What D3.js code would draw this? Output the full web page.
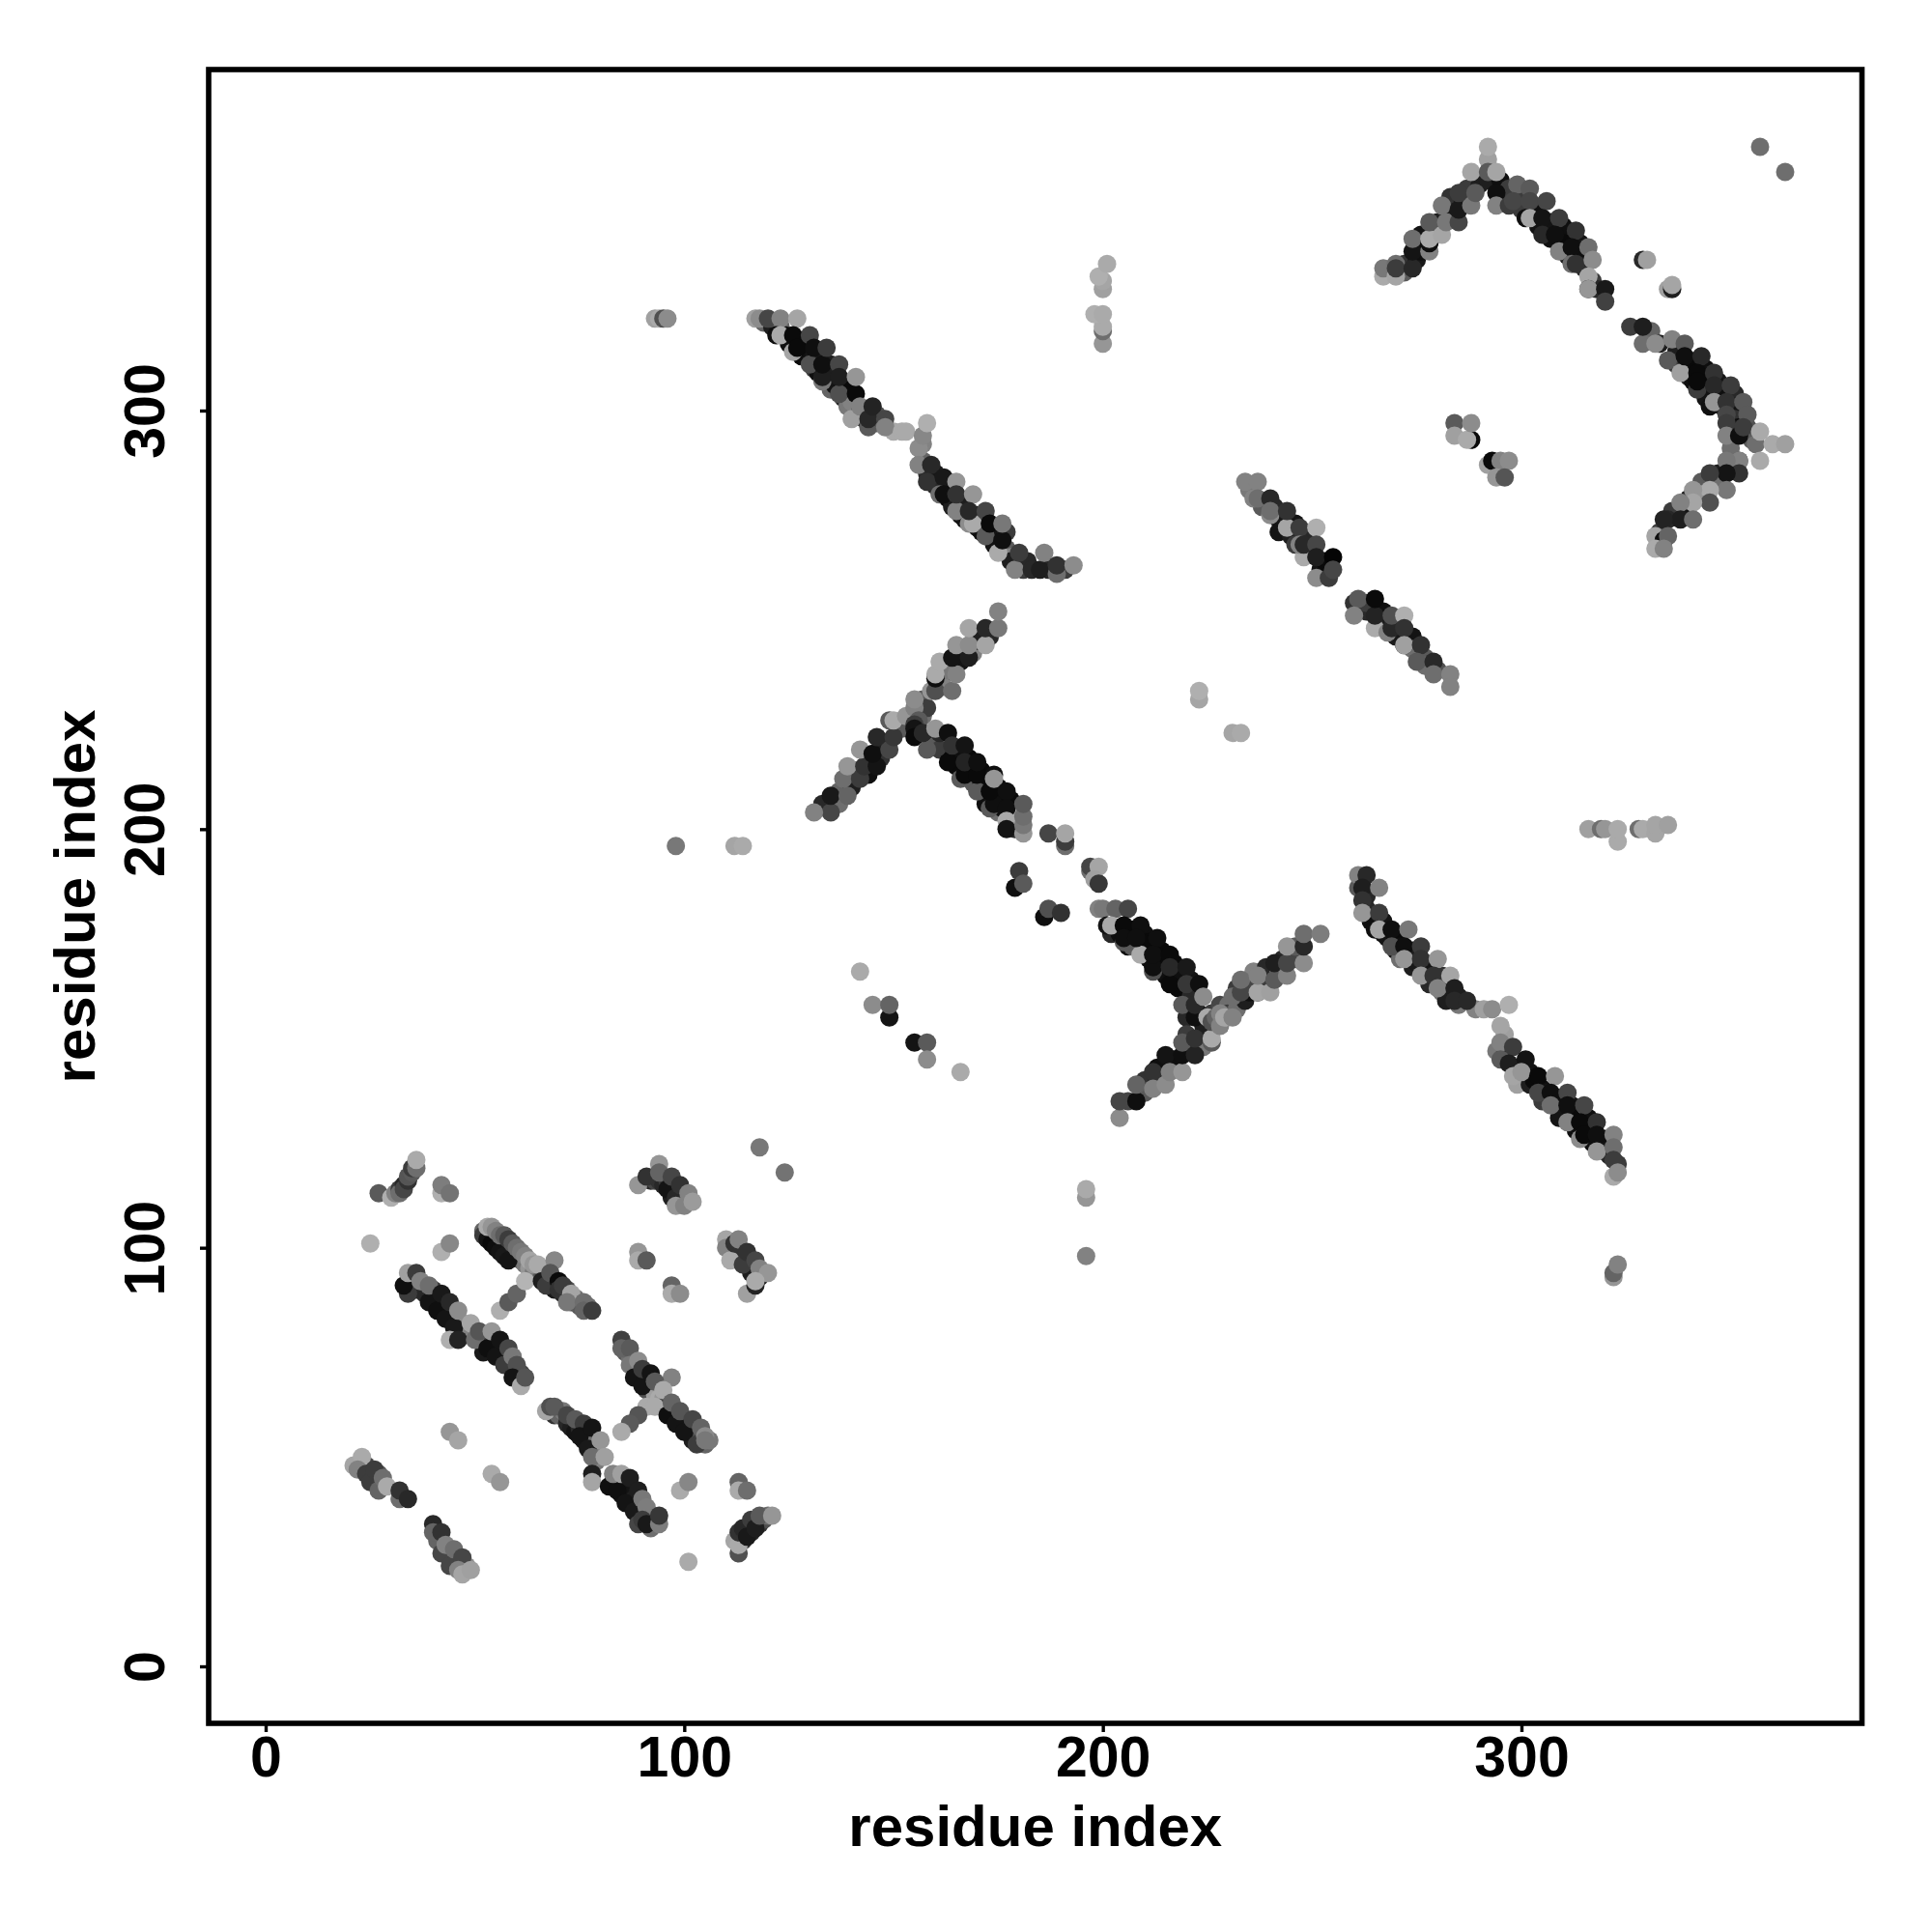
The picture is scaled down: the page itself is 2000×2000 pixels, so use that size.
<!DOCTYPE html>
<html><head><meta charset="utf-8"><style>html,body{margin:0;background:#fff}</style>
<script src="https://cdn.jsdelivr.net/npm/d3@7"></script></head><body><svg id="c" width="2000" height="2000"></svg>
<script>
// each row: [residue x, residue y, grey shade 0-255]
const underB=[[53,103,60],[54,103,30],[55,102,25],[56,101,20],[57,100,30],[58,100,40],[59,99,60],[60,98,70],[61,97,90],[62,96,120],[63,95,150],[64,94,120],[66,94,90],[67,93,40],[68,92,30],[69,90,25],[71,89,40],[72,90,80],[73,87,60],[74,88,110],[75,86,90],[77,86,110]];
const underC=[[35,92,60],[36,90,30],[37,90,60],[38,89,40],[40,88,20],[40,90,60],[41,88,40],[43,86,25],[44,85,30],[45,83,30],[46,82,110],[47,82,140],[48,80,150],[49,80,130],[51,78,120],[52,78,60],[52,75,25],[53,79,60],[54,76,25],[55,77,30],[56,75,30],[57,75,50],[58,73,40],[59,71,60],[60,70,50],[61,70,70]];
const underD=[[69,60,50],[70,60,100],[71,61,120],[72,58,40],[73,57,30],[74,56,20],[75,57,40],[76,54,25],[77,55,30],[78,53,110],[79,52,150],[79,49,120],[80,50,130],[83,44,25],[84,45,30],[85,44,20],[85,41,20],[86,43,25],[87,41,20],[88,40,30],[89,39,60],[90,38,70],[91,36,60],[92,36,90],[93,35,110],[92,33,110]];
const underE=[[86,75,90],[87,74,110],[88,72,50],[89,70,30],[90,69,40],[91,68,60],[91,66,80],[92,67,90],[93,65,160],[94,64,170],[95,64,150],[96,63,60],[97,61,40],[98,61,60],[99,59,30],[100,59,60],[101,57,40],[102,57,70],[102,54,30],[103,55,50],[104,55,80],[105,53,100],[106,54,120]];
const underF=[[92,116,40],[93,116,70],[94,116,50],[95,115,40],[96,116,60],[97,112,30],[98,113,50],[99,113,70],[100,112,110],[101,111,130]];
const underG=[[111,100,110],[112,99,60],[113,98,40],[114,98,50],[115,96,30],[116,96,50],[117,95,50],[116,94,30],[118,93,40]];
const underH=[[23,48,100],[24,48,70],[25,46,40],[26,45,60],[27,46,90],[41,30,100],[43,28,100],[44,26,60],[45,25,60],[46,26,100],[48,24,140]];
const underI=[[114,30,50],[115,33,40],[116,32,40],[117,35,60],[118,34,50],[119,35,80],[120,36,110]];
const underJ=[[119,321,100],[121,320,30],[123,320,100],[124,318,15],[125,316,15],[127,317,20],[128,315,10],[128,313,10],[129,313,15],[131,313,20],[131,310,60],[132,312,30],[132,309,15],[134,309,60],[135,307,30],[135,311,30],[135,305,100],[136,306,20],[138,306,10],[138,303,40],[139,305,10],[139,301,120],[140,302,130],[142,300,60],[143,298,40],[143,300,90],[146,299,80],[146,297,90],[150,295,170],
[157,288,100],[158,285,40],[160,285,25],[160,282,40],[163,282,30],[163,279,15],[164,280,20],[164,277,30],[166,278,15],[166,275,15],[167,277,30],[167,274,20],[170,275,30],[170,272,25],[171,274,30],[171,271,15],[173,271,10],[174,271,20],[174,268,20],[176,268,20],[177,267,90],[177,271,60],[178,265,130],[178,264,30],[181,262,60],[182,264,40],[187,262,40],[191,262,60]];
const underK=[[133,206,40],[137,209,100],[137,206,110],[140,210,30],[141,214,60],[144,213,15],[144,217,15],[147,221,30],[147,217,50],[151,224,110],[152,224,90],[157,227,110],[157,231,90],[158,229,60],[161,234,60],[162,237,15],[162,234,130],[163,238,120],[166,240,20],[166,243,40],[169,242,130],[170,245,30],[173,246,40]];
const underL=[[159,221,15],[160,220,90],[161,219,60],[161,223,40],[164,217,10],[165,218,15],[165,215,10],[168,217,10],[168,214,10],[169,211,90],[171,214,10],[171,211,10],[172,210,10],[172,206,15],[175,210,10],[175,207,10],[175,204,110],[176,205,15],[178,204,10],[178,207,10],[179,203,170],[179,200,40]];
const underM=[[202,175,40],[204,175,15],[206,175,10],[206,172,15],[207,176,10],[207,172,90],[210,175,15],[210,171,10],[211,173,10],[211,169,15],[213,168,10],[214,171,10],[214,167,10],[215,165,15],[217,168,10],[217,164,10],[218,165,15],[218,162,10],[221,164,20],[221,160,40],[221,157,20],[223,156,10],[220,155,40]];
const underN=[[206,135,70],[210,137,90],[210,140,50],[213,140,30],[213,143,15],[217,143,15],[217,145,15],[220,147,30],[220,151,60],[224,151,90],[224,148,120],
[224,153,30],[226,156,60],[228,158,70],[230,158,110],[230,156,60],[232,157,110],[232,162,60],[234,159,30],[235,161,15],[235,164,70],[236,166,130],[238,162,20],[239,163,60],[239,167,40],[242,166,120],[243,169,40],[246,169,70],[246,172,90]];
const underO=[[262,188,20],[261,186,90],[263,184,40],[263,181,40],[264,178,15],[267,178,20],[267,175,15],[268,174,20],[270,174,10],[270,171,20],[271,172,15],[271,169,110],[273,170,25],[274,171,30],[274,167,30],[275,168,25],[277,168,40],[277,165,15],[278,166,20],[278,163,40],[281,165,50],[281,161,110],[282,162,40],[282,159,30],[285,160,30],[285,158,120],[289,157,130],[296,151,160],[294,147,120],[296,146,40],[299,143,15],[299,139,160],[302,142,20],[302,139,30],[303,140,10],[305,138,15],[305,135,60],[306,137,20],[308,136,15],[309,134,15],[309,131,20],[312,134,20],[312,131,10],[313,128,15],[316,131,15],[316,128,10],[317,125,15],[319,124,20],[320,126,15],[320,123,20],[321,122,40],[323,120,60]];
const underP=[[268,333,60],[272,335,50],[272,333,90],[275,336,25],[276,338,15],[276,342,20],[279,343,40],[280,345,30],[283,347,25],[283,351,50],[286,350,30],[287,353,60],[290,354,30],[292,355,30],[295,355,15],[296,351,40],[297,353,60],[300,351,60],[300,348,60],[303,348,15],[304,346,15],[304,344,20],[306,343,15],[307,345,20],[307,341,15],[310,344,15],[310,340,15],[311,340,10],[311,337,30],[314,340,20],[314,337,15],[315,334,40],[317,331,60],[318,329,40]];
const underQ=[[331,319,100],[333,316,30],[337,314,30],[337,311,60],[340,312,10],[340,308,40],[341,310,10],[341,307,15],[344,310,15],[344,306,10],[344,303,20],[347,307,20],[347,304,15],[348,301,30],[351,304,40],[351,301,20],[351,298,50],[352,296,15],[354,296,80],[355,293,90],[350,291,110],[350,287,40],[347,285,30],[347,283,110],[343,283,90],[343,280,150],[340,279,30],[339,276,20],[336,276,60],[335,274,40],[333,271,60]];
const underS=[[235,281,120],[238,277,90],[241,277,40],[242,274,25],[242,271,20],[245,270,30],[246,268,60],[246,273,20],[249,267,15],[249,270,40],[250,266,150],[252,262,20],[253,264,10],[262,253,30],[263,252,40],[263,254,60],[266,249,20],[267,252,15],[267,249,30],[270,250,20],[270,246,25],[274,246,20],[274,243,110],[277,241,90],[277,239,110],[280,238,80]];
const blockA=[[27,113,90],[30,112,175],[31,113,130],[32,114,60],[32,113,110],[33,115,40],[33,114,70],[34,116,50],[34,117,85],[35,118,90],[35,119,60],[36,119,110],[36,121,170],
[42,113,175],[42,115,125],[44,113,115],[25,101,175],[42,99,175],[44,101,135]];
const blockB=[[52,104,100],[52,103,60],[53,102,20],[54,101,10],[55,100,15],[56,99,20],[57,98,25],[58,97,20],[53,105,170],[54,105,150],[55,104,130],[56,103,110],[57,103,90],[58,102,60],[59,101,90],[60,100,110],[61,99,120],[62,98,130],[63,97,165],[64,96,150],[65,96,170],[69,97,135],
[56,85,175],[58,87,90],[60,89,100],[62,92,180],[66,92,30],[67,91,60],[68,94,85],[70,92,10],[70,90,50],[71,91,60],[73,89,165],[72,87,120],[76,87,110],[76,85,100],[78,85,60]];
const blockC=[[34,89,60],[33,91,15],[34,94,160],[36,94,60],[37,92,130],[39,87,20],[41,85,15],[43,83,20],[45,81,25],[39,91,110],[42,89,25],[44,87,40],[46,85,140],[49,82,165],[44,78,175],[46,78,35],[50,78,110],[51,80,85],[53,76,15],[55,74,20],[57,72,60],[54,80,150],[56,78,20],[58,76,70],[59,74,120],[60,72,80],[59,69,20],[61,67,170],[62,69,85]];
const blockD=[[67,61,165],[68,62,80],[69,62,90],[72,60,70],[74,59,90],[76,58,60],[75,55,20],[77,52,25],[78,57,20],[80,54,150],[78,50,110],[81,50,160],[78,46,30],[78,44,165],[82,43,15],[84,42,15],[83,46,130],[85,46,160],[86,39,20],[88,37,25],[87,45,30],[89,42,30],[90,40,120],[91,38,125],[89,34,70],[90,35,60],[91,34,25],[94,34,125],[94,36,55]];
const blockE=[[85,78,65],[85,76,100],[87,76,90],[87,72,120],[89,73,140],[88,69,20],[90,67,20],[90,71,60],[92,70,20],[97,69,130],[93,68,90],[95,66,170],[91,62,170],[93,62,170],[89,60,85],[87,58,90],[85,56,170],[96,60,15],[98,58,20],[100,56,20],[103,53,60],[97,63,100],[99,61,85],[102,59,70],[104,57,100],[105,55,140],[105,54,120]];
const blockF=[[89,115,150],[91,117,50],[96,114,20],[98,112,40],[94,120,150],[94,118,100],[97,117,70],[99,115,50],[98,110,150],[100,110,130],[101,113,130],[102,111,155],
[89,99,150],[89,97,170],[91,97,90],[97,91,100],[97,89,170],[99,89,140]];
const blockG=[[110,102,165],[110,100,130],[111,97,170],[112,101,50],[113,102,130],[114,96,60],[115,99,50],[117,97,70],[118,95,130],[120,94,150],[115,89,160],[117,91,35],[117,92,170],[118,124,120],[124,118,115]];
const blockH=[[21,48,165],[23,50,170],[22,47,130],[24,46,60],[25,44,60],[26,47,60],[27,42,100],[28,45,110],[29,43,170],[32,40,110],[32,42,50],[34,40,40],
[40,34,40],[40,32,100],[42,32,50],[42,27,70],[43,29,130],[44,24,70],[45,28,110],[47,26,70],[46,23,130],[47,22,165],[49,23,160],
[44,56,150],[46,54,165],[54,46,170],[56,44,150],[99,42,170],[101,44,135],[113,44,100],[113,42,170],[115,42,110],[101,25,170]];
const blockI=[[113,27,80],[112,30,165],[113,29,170],[113,32,50],[114,33,40],[115,31,25],[116,35,60],[117,33,30],[118,36,90],[121,36,150]];
const blockJ=[[93,322,160],[94,322,170],[95,322,80],[96,322,140],[117,322,160],[118,322,140],[120,322,70],[123,322,130],[127,322,165],
[122,318,15],[123,318,170],[126,314,165],[126,318,10],[127,315,10],[130,311,80],[130,318,70],[131,315,15],[133,307,120],[133,308,30],[133,311,15],[134,315,60],[137,304,80],[137,311,70],[137,308,30],[140,298,160],[141,304,10],[141,308,150],[142,301,130],[144,296,90],[144,298,40],[145,301,35],[148,298,70],[148,296,130],[152,295,170],[153,295,170],[157,292,130],[156,291,140],[157,294,135],[158,297,175],
[156,287,130],[159,287,40],[158,283,50],[162,284,25],[165,283,150],[161,280,110],[162,280,15],[165,276,130],[165,280,50],[169,280,150],[168,273,140],[169,273,170],[168,276,40],[172,276,70],[172,270,90],[173,273,10],[175,266,170],[176,269,15],[176,273,120],[179,262,130],[180,266,60],[183,262,40],[185,262,30],[186,266,130],[189,261,110],[189,263,50],[193,263,140]];
const blockK=[[135,204,70],[131,204,130],[135,208,25],[139,208,100],[138,212,110],[142,212,60],[139,215,150],[143,215,50],[146,215,20],[142,219,150],[145,218,15],[149,219,70],[146,222,40],[150,222,55],[149,226,90],[150,226,170],
[153,227,150],[155,229,130],[155,231,140],[156,226,90],[155,225,60],[155,224,20],[155,222,10],[159,233,150],[160,233,80],[164,233,110],[160,236,15],[160,237,170],[161,240,170],[165,237,130],[164,241,20],[168,241,30],[165,244,150],[168,244,140],[172,244,165],[168,248,165],[172,248,40],[175,248,120],[175,252,130]];
const blockL=[[158,219,90],[157,223,40],[160,224,150],[163,223,15],[163,216,10],[164,220,50],[167,220,20],[166,212,90],[167,213,10],[167,216,35],[170,209,90],[170,213,10],[170,216,15],[173,205,90],[174,206,15],[173,209,10],[174,213,15],[174,212,150],[177,209,15],[177,205,15],[177,202,170],[177,200,20],[181,199,150],[181,201,120],[181,203,110],[181,206,90],
[187,199,70],[191,196,110],[191,197,60],[191,199,165],[179,186,15],[180,190,60],[181,187,90],[186,179,15],[187,181,80],[190,180,50],[197,190,110],[197,191,70],[199,191,165],[198,188,160],[199,187,55]];
const blockM=[[199,181,130],[200,181,120],[203,181,100],[206,181,70],[201,177,20],[202,177,170],[205,177,10],[209,177,15],[205,173,90],[205,174,15],[209,170,170],[208,174,15],[213,174,15],[212,166,80],[212,167,15],[212,170,15],[216,170,10],[216,163,10],[216,167,40],[220,167,25],[220,163,55],[219,158,90],[223,163,15],[222,155,15],[222,158,40],[224,160,140]];
const blockN=[[204,131,140],[204,135,70],[208,135,15],[208,139,100],[212,142,50],[212,138,130],[215,139,140],[215,146,20],[216,142,130],[219,142,150],[219,146,15],[219,149,90],[222,146,35],[222,150,50],[226,149,90],[226,150,170],
[225,155,170],[226,154,80],[227,155,100],[228,153,130],[228,156,130],[229,155,165],[231,155,130],[231,160,110],[233,161,70],[233,164,110],[237,161,25],[237,161,165],[237,165,130],[240,161,160],[241,164,90],[241,168,30],[244,165,130],[244,168,70],[244,172,150],[248,168,140],[248,172,40],[248,175,110],[252,175,125]];
const blockO=[[261,189,130],[263,189,40],[262,186,30],[266,186,130],[262,183,50],[262,180,150],[266,180,60],[265,176,15],[266,176,165],[269,176,15],[273,176,120],[269,172,80],[272,172,15],[276,172,60],[272,169,150],[276,169,50],[280,169,150],[276,165,150],[279,165,50],[283,165,165],[280,162,130],[284,162,30],[284,159,40],[287,159,40],[291,157,160],[293,157,140],[297,158,175],
[295,153,165],[295,149,130],[298,148,60],[295,145,90],[297,144,30],[301,145,20],[298,141,165],[300,142,150],[304,141,10],[308,141,150],[304,137,70],[307,137,15],[311,137,70],[307,134,110],[311,134,15],[315,134,70],[311,130,130],[314,130,10],[318,130,50],[314,126,140],[315,127,10],[318,127,15],[322,127,130],[318,123,150],[322,124,110],[322,121,60],[322,117,170],[323,118,140],[322,93,150],[322,94,100],[323,96,130]];
const blockP=[[267,332,170],[267,334,120],[270,332,165],[270,335,110],[270,334,60],[274,334,40],[274,338,20],[278,338,130],[274,341,110],[278,340,15],[278,341,170],[281,342,165],[278,345,90],[281,349,120],[282,345,120],[285,345,70],[285,348,25],[288,349,120],[285,352,60],[289,352,90],[288,357,165],[292,360,160],[292,363,170],[292,357,90],[294,352,15],[294,349,130],[294,357,165],[297,349,60],[299,354,100],[298,350,70],[302,353,90],[302,350,70],[306,350,70],[301,346,15],[302,346,165],[305,346,20],[309,346,60],[305,342,40],[308,342,15],[309,338,130],[313,343,50],[312,339,15],[316,339,110],[312,335,110],[313,335,50],[317,336,140],[316,332,165],[316,329,50],[316,329,150],[320,329,25],[320,326,65],
[329,336,40],[330,336,160],[335,329,160],[336,329,30],[336,330,165],[357,363,110],[363,357,110]];
const blockQ=[[326,320,60],[329,316,110],[329,320,30],[332,316,140],[336,317,130],[335,312,90],[339,316,90],[338,309,160],[339,313,15],[343,313,40],[342,305,60],[342,309,10],[342,307,10],[346,309,50],[346,306,40],[350,306,60],[345,301,15],[346,302,150],[349,302,50],[353,302,90],[349,299,70],[349,297,60],[349,294,130],[354,299,90],[352,294,15],[353,296,60],[356,292,110],[357,295,170],[360,292,170],[363,292,160],
[357,288,170],[352,288,90],[352,288,130],[349,288,120],[352,285,50],[349,285,20],[345,285,60],[349,281,120],[345,281,170],[345,278,80],[341,281,150],[341,278,165],[338,278,130],[338,274,30],[341,274,110],[334,274,35],[332,270,165],[334,269,15],[335,270,100],[332,267,170],[334,267,130]];
const blockR=[[284,297,90],[284,294,160],[288,293,10],[287,293,170],[288,297,140],[292,287,160],[293,288,10],[295,288,130],[297,288,140],[294,284,150],[296,284,85]];
const blockS=[[234,283,130],[236,279,130],[237,283,130],[237,279,110],[240,279,40],[240,275,140],[240,276,110],[244,272,10],[244,272,165],[244,276,50],[247,272,60],[251,272,175],[248,265,170],[247,268,130],[248,268,40],[251,268,70],[251,260,140],[251,265,30],[255,265,5],[254,260,60],[255,262,70],
[260,254,50],[261,255,90],[260,251,130],[265,248,170],[265,251,35],[265,255,10],[268,247,130],[269,248,40],[269,251,80],[272,251,175],[272,248,50],[272,244,15],[272,244,160],[276,244,50],[275,240,90],[279,240,40],[279,237,110],[283,237,130],[283,234,130]];
const blockT=[[200,316,150],[200,319,110],[200,320,170],[198,323,175],[200,323,170],[200,329,160],[200,331,165],[199,332,175],[201,335,170],
[223,231,165],[223,233,175],[231,223,165],[233,223,170],[98,196,120],[112,196,165],[114,196,170],
[316,200,160],[319,200,110],[320,200,150],[323,197,170],[323,200,170],[328,200,110],[329,200,170],[332,199,165],[332,201,165],[335,201,160],
[142,166,170],[145,158,140],[149,155,20],[149,158,100],[155,149,20],[158,149,90],[158,145,140],[166,142,170],
[196,98,130],[196,112,150],[196,114,170]];
const contactBlocks=[underB,underC,underD,underE,underF,underG,underH,underI,underJ,underK,underL,underM,underN,underO,underP,underQ,underS,
blockA,blockB,blockC,blockD,blockE,blockF,blockG,blockH,blockI,blockJ,blockK,blockL,blockM,blockN,blockO,blockP,blockQ,blockR,blockS,blockT];
const xTicks=[0,100,200,300], yTicks=[0,100,200,300];
const xTitle="residue index", yTitle="residue index";

const W=2000,H=2000, L=216, R=1927.5, T=72, B=1784;
const font='"Liberation Sans",Arial,sans-serif', fs=59, fsTitle=60;
const x=d3.scaleLinear().domain([0,300]).range([275,1575]);
const y=d3.scaleLinear().domain([0,300]).range([1725,425]);
const svg=d3.select("#c");
svg.append("rect").attr("width",W).attr("height",H).attr("fill","#fff");
svg.append("g").selectAll("g").data(contactBlocks).join("g").selectAll("circle").data(d=>d).join("circle")
  .attr("cx",d=>x(d[0])).attr("cy",d=>y(d[1])).attr("r",9.5).attr("fill",d=>d3.rgb(d[2],d[2],d[2]));
svg.append("rect").attr("x",L).attr("y",T).attr("width",R-L).attr("height",B-T).attr("fill","none").attr("stroke","#000").attr("stroke-width",5.6);
const gx=svg.append("g").attr("transform",`translate(0,${B})`).call(d3.axisBottom(x).tickValues(xTicks).tickSize(9).tickSizeOuter(0));
gx.select(".domain").remove();
gx.selectAll("line").attr("stroke","#000").attr("stroke-width",3.4);
gx.selectAll("text").attr("y",55).attr("dy",0).attr("font-family",font).attr("font-weight","bold").attr("font-size",fs).attr("fill","#000");
const gy=svg.append("g").attr("transform",`translate(${L},0)`).call(d3.axisLeft(y).tickValues(yTicks).tickSize(9).tickSizeOuter(0));
gy.select(".domain").remove();
gy.selectAll("line").attr("stroke","#000").attr("stroke-width",3.4);
gy.selectAll("text").attr("x",0).attr("y",0).attr("dy",0).attr("text-anchor","middle").attr("transform","translate(-46,0) rotate(-90)").attr("font-family",font).attr("font-weight","bold").attr("font-size",fs).attr("fill","#000");
svg.append("text").attr("x",(L+R)/2).attr("y",1911).attr("text-anchor","middle").attr("font-family",font).attr("font-weight","bold").attr("font-size",fsTitle).text(xTitle);
svg.append("text").attr("transform",`translate(98,${(T+B)/2}) rotate(-90)`).attr("text-anchor","middle").attr("font-family",font).attr("font-weight","bold").attr("font-size",fsTitle).text(yTitle);
</script></body></html>
